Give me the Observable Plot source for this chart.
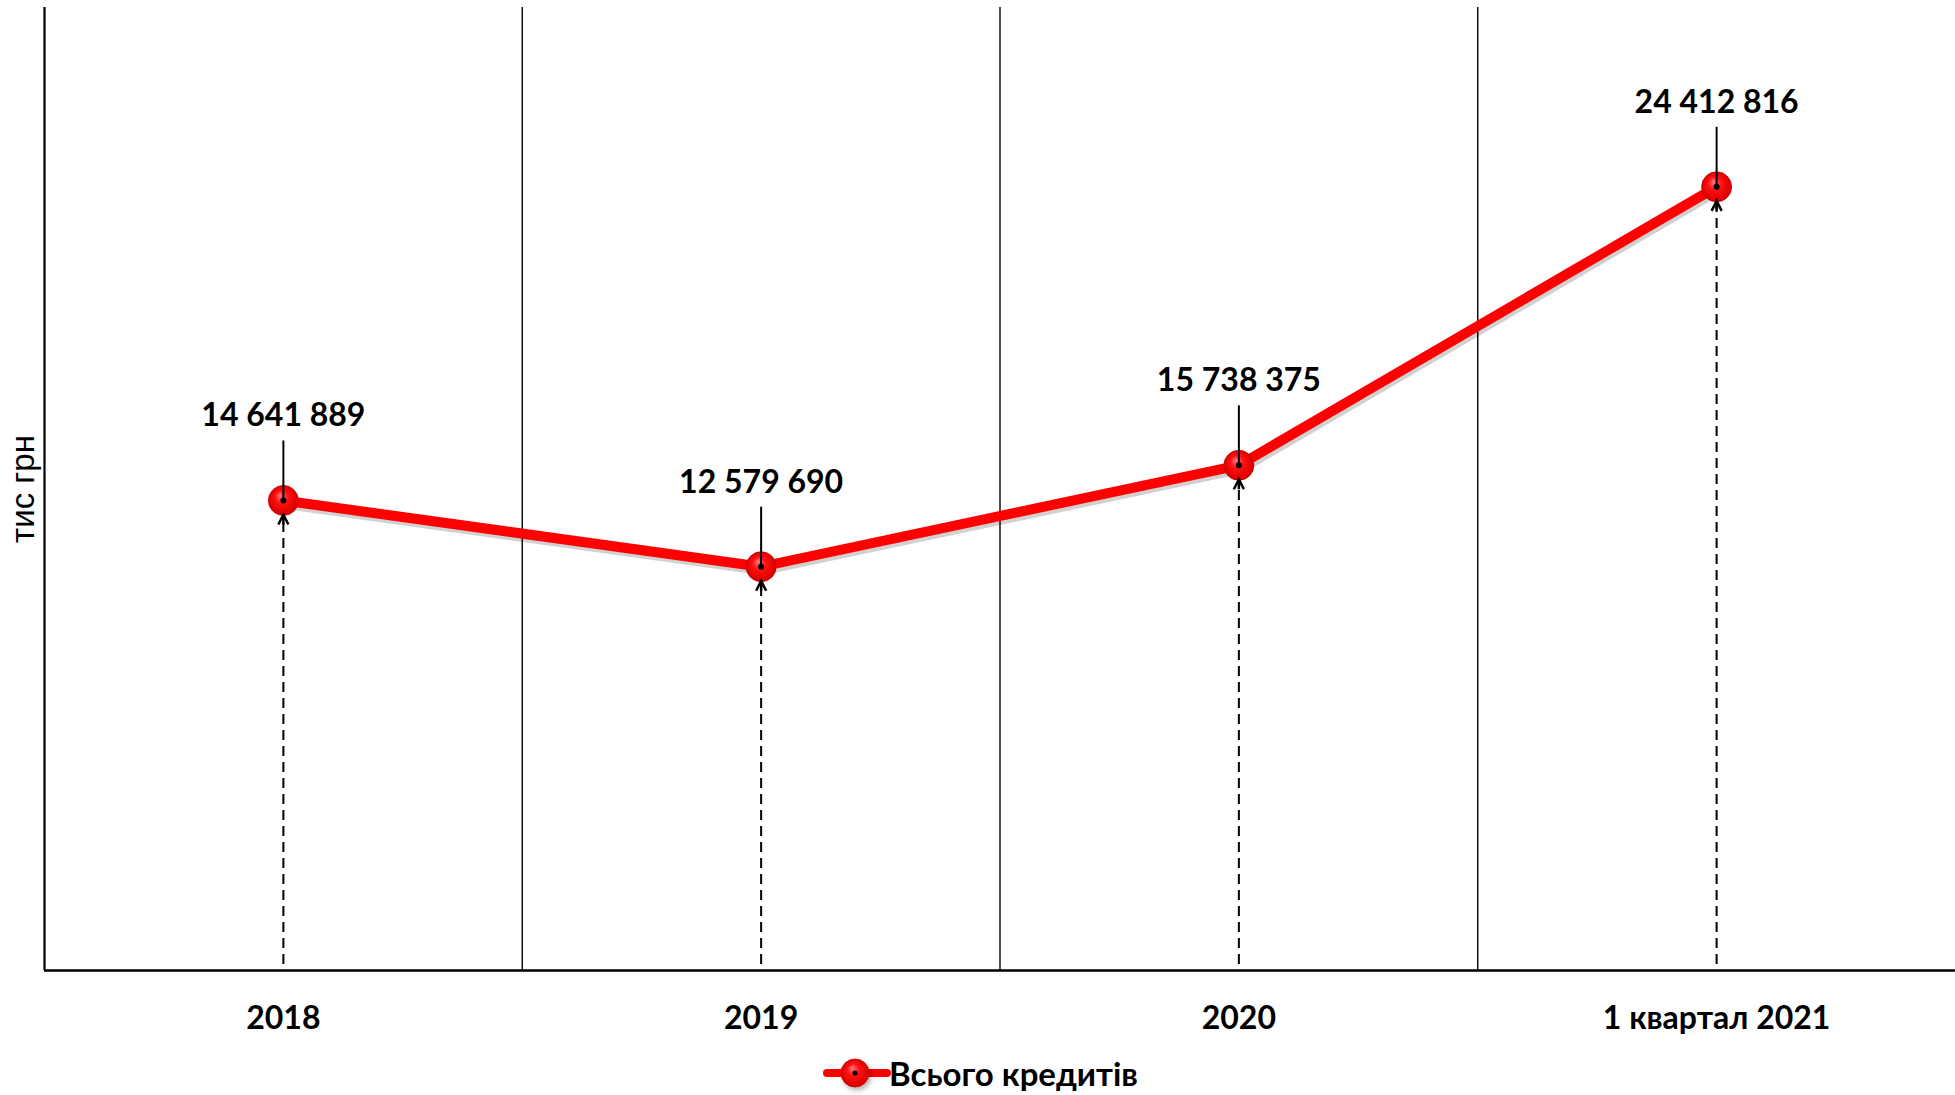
<!DOCTYPE html>
<html>
<head>
<meta charset="utf-8">
<script src="https://cdn.jsdelivr.net/npm/d3@7"></script>
<script src="https://cdn.jsdelivr.net/npm/@observablehq/plot@0.6"></script>
<style>
  html, body { margin: 0; padding: 0; background: #fff; }
  body { width: 1955px; height: 1095px; overflow: hidden; font-family: Lato, "Open Sans", sans-serif; }
  #legend { height: 56px; display: flex; justify-content: center; align-items: center; padding-left: 8px; }
  #legend span { font-family: Lato, "Open Sans", sans-serif; font-weight: bold; font-size: 33px; color: #000; margin-left: 0px; }
</style>
</head>
<body>
<div id="chart"></div>
<div id="legend"></div>
<script>
// ---- data ----
const categories = ["2018", "2019", "2020", "1 квартал 2021"];
const values = [14641889, 12579690, 15738375, 24412816];
const seriesName = "Всього кредитів";
const yLabel = "тис грн";
const yDomain = [0, 30000000];
const xTicks = [0, 1, 2, 3];
const gridPositions = [0.5, 1.5, 2.5];

const data = categories.map((c, i) => ({ i, category: c, value: values[i] }));
const fmt = d3.formatLocale({ thousands: " ", grouping: [3], decimal: "," }).format(",d");

// custom symbols
const leaderSymbol = { draw(ctx) { ctx.moveTo(0, 0); ctx.lineTo(0, -60); } };
const arrowHeadSymbol = { draw(ctx) { ctx.moveTo(-5, 10); ctx.lineTo(0, 0); ctx.lineTo(5, 10); ctx.moveTo(0, 0); ctx.lineTo(0, 10); } };

function makeDefs(prefix) {
  const s = d3.create("svg:defs");
  const g = s.append("radialGradient").attr("id", prefix + "Ball")
    .attr("cx", "50%").attr("cy", "50%").attr("r", "55%").attr("fx", "40%").attr("fy", "32%");
  g.append("stop").attr("offset", "0%").attr("stop-color", "#ff7a7a");
  g.append("stop").attr("offset", "40%").attr("stop-color", "#ff1010");
  g.append("stop").attr("offset", "85%").attr("stop-color", "#e00000");
  g.append("stop").attr("offset", "100%").attr("stop-color", "#a80000");
  const f = s.append("filter").attr("id", prefix + "Shadow")
    .attr("x", "-30%").attr("y", "-30%").attr("width", "160%").attr("height", "160%");
  f.append("feDropShadow").attr("dx", 2).attr("dy", 3).attr("stdDeviation", 2.5)
    .attr("flood-color", "#000").attr("flood-opacity", 0.3);
  return s.node();
}

const chart = Plot.plot({
  width: 1955,
  height: 1045,
  marginLeft: 44,
  marginRight: 0,
  marginTop: 7,
  marginBottom: 75,
  style: { background: "#fff", overflow: "visible", fontFamily: "Lato, 'Open Sans', sans-serif" },
  x: { domain: [-0.5, 3.5] },
  y: { domain: yDomain, axis: null },
  marks: [
    () => makeDefs("c"),
    // vertical separators
    Plot.ruleX(gridPositions, { y1: yDomain[0], y2: yDomain[1], stroke: "#000", strokeWidth: 1.4 }),
    // left axis line
    Plot.ruleX([-0.5], { y1: yDomain[0], y2: yDomain[1], stroke: "#000", strokeWidth: 2.2 }),
    // bottom axis line
    Plot.ruleY([0], { stroke: "#000", strokeWidth: 2.6 }),
    Plot.axisX({
      ticks: xTicks,
      tickFormat: (i) => categories[i],
      tickSize: 0,
      tickPadding: 36,
      fontSize: 32,
      fontWeight: "bold",
      fill: "#000",
      label: null
    }),
    Plot.text([yLabel], {
      frameAnchor: "left", textAnchor: "middle", rotate: -90, dx: -21,
      fontSize: 33, fontFamily: "'Liberation Sans', Arial, sans-serif", fill: "#000"
    }),
    // dashed drop lines
    Plot.ruleX(data, {
      x: "i", y1: 0, y2: "value", stroke: "#000", strokeWidth: 2,
      strokeDasharray: "10,6", strokeDashoffset: 10
    }),
    // series line shadow + line
    Plot.line(data, { x: "i", y: "value", stroke: "#000", strokeOpacity: 0.18, strokeWidth: 11, dx: 2, dy: 3 }),
    Plot.line(data, { x: "i", y: "value", stroke: "#ff0000", strokeWidth: 10 }),
    // balls
    Plot.dot(data, { x: "i", y: "value", r: 15, fill: "url(#cBall)", stroke: "#c00000", strokeWidth: 0.8, ariaLabel: "balls" }),
    // leaders
    Plot.dot(data, { x: "i", y: "value", symbol: leaderSymbol, fill: "none", stroke: "#000", strokeWidth: 2 }),
    Plot.dot(data, { x: "i", y: "value", r: 3, fill: "#000", stroke: "none" }),
    // arrowheads
    Plot.dot(data, { x: "i", y: "value", symbol: arrowHeadSymbol, dy: 14, fill: "none", stroke: "#000", strokeWidth: 2.5, strokeLinejoin: "miter" }),
    // value labels
    Plot.text(data, {
      x: "i", y: "value", text: (d) => fmt(d.value),
      lineAnchor: "bottom", dy: -74, fontSize: 32, fontWeight: "bold", fill: "#000"
    })
  ]
});

chart.querySelectorAll('g[aria-label="balls"]').forEach((g) => g.setAttribute("filter", "url(#cShadow)"));
document.getElementById("chart").appendChild(chart);

// legend
const legend = d3.select("#legend");
const ls = legend.append("svg").attr("width", 64).attr("height", 34).style("overflow", "visible");
ls.node().appendChild(makeDefs("l"));
ls.append("line").attr("x1", 2).attr("x2", 62).attr("y1", 17).attr("y2", 17)
  .attr("stroke", "#ff0000").attr("stroke-width", 8).attr("stroke-linecap", "round");
ls.append("circle").attr("cx", 30).attr("cy", 17).attr("r", 14)
  .attr("fill", "url(#lBall)").attr("stroke", "#c00000").attr("stroke-width", 0.8).attr("filter", "url(#lShadow)");
ls.append("circle").attr("cx", 30).attr("cy", 17).attr("r", 2.5).attr("fill", "#000");
legend.append("span").text(seriesName);
</script>
</body>
</html>
